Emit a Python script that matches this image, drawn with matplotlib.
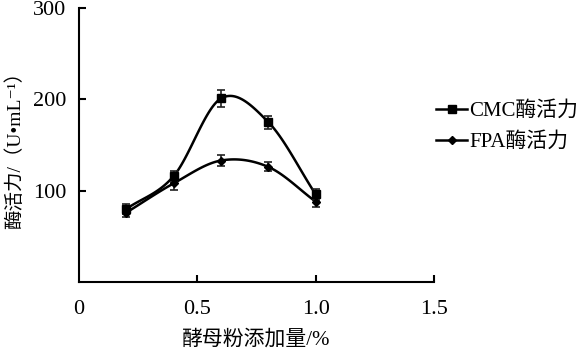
import numpy as np
import matplotlib
matplotlib.use("Agg")
import matplotlib.pyplot as plt
from matplotlib.lines import Line2D

plt.rcParams['font.family'] = ['Liberation Serif', 'Noto Sans CJK SC', 'DejaVu Sans']

x = [0.2, 0.4, 0.6, 0.8, 1.0]
cmc = [80, 116, 201, 175, 96]
cmc_err = [5, 6, 9, 7, 6]
fpa = [76, 108, 133, 126, 88]
fpa_err = [5, 7, 6, 5, 6]
xticks = [0, 0.5, 1.0, 1.5]
xticklabels = ['0', '0.5', '1.0', '1.5']
yticks = [100, 200, 300]


def smooth(xs, ys, n=30):
    xs = np.asarray(xs, float)
    ys = np.asarray(ys, float)
    px = np.concatenate([[2 * xs[0] - xs[1]], xs, [2 * xs[-1] - xs[-2]]])
    py = np.concatenate([[2 * ys[0] - ys[1]], ys, [2 * ys[-1] - ys[-2]]])
    ox, oy = [], []
    for i in range(1, len(px) - 2):
        t = np.linspace(0, 1, n, endpoint=(i == len(px) - 3))
        for arr, out in ((px, ox), (py, oy)):
            p0, p1, p2, p3 = arr[i - 1], arr[i], arr[i + 1], arr[i + 2]
            out.extend(0.5 * ((2 * p1) + (-p0 + p2) * t
                              + (2 * p0 - 5 * p1 + 4 * p2 - p3) * t ** 2
                              + (-p0 + 3 * p1 - 3 * p2 + p3) * t ** 3))
    return np.array(ox), np.array(oy)


fig = plt.figure(figsize=(5.87, 3.52), dpi=100)
ax = fig.add_axes([79 / 587, 1 - 282 / 352, (434 - 79) / 587, (282 - 8) / 352])

for ys, err, mk, ms in ((cmc, cmc_err, 's', 6), (fpa, fpa_err, 'D', 4.5)):
    sx, sy = smooth(x, ys)
    ax.plot(sx, sy, color='black', lw=1.8, zorder=2)
    ax.errorbar(x, ys, yerr=err, fmt='none', ecolor='#222222', elinewidth=1.2,
                capsize=3, capthick=1.2, zorder=3)
    ax.plot(x, ys, linestyle='none', marker=mk, markersize=ms, color='black', zorder=4)

ax.set_xlim(0, 1.5)
ax.set_ylim(0, 300)
ax.set_xticks(xticks)
ax.set_xticklabels(xticklabels)
ax.set_yticks(yticks)
for s in ('top', 'right'):
    ax.spines[s].set_visible(False)
for s in ('left', 'bottom'):
    ax.spines[s].set_linewidth(1.5)
ax.tick_params(direction='in', length=5, width=1.5, labelsize=16, pad=9)
ax.tick_params(axis='x', pad=13)
ax.xaxis.get_major_ticks()[0].tick1line.set_visible(False)

ax.set_xlabel('酵母粉添加量/%', fontsize=15, labelpad=8)
ax.set_ylabel('酶活力/（U•mL⁻¹）', fontsize=14)
ax.yaxis.set_label_coords(-0.155, 0.5)

handles = [Line2D([], [], color='black', lw=1.8, marker='s', markersize=6),
           Line2D([], [], color='black', lw=1.8, marker='D', markersize=4.5)]
fig.legend(handles, ['CMC酶活力', 'FPA酶活力'], loc='upper left',
           bbox_to_anchor=(432 / 587, 1 - 97 / 352), frameon=False,
           fontsize=15, handlelength=1.5, handletextpad=0.1, labelspacing=0.55,
           borderaxespad=0, borderpad=0.2)

fig.savefig('out.png', dpi=100)
